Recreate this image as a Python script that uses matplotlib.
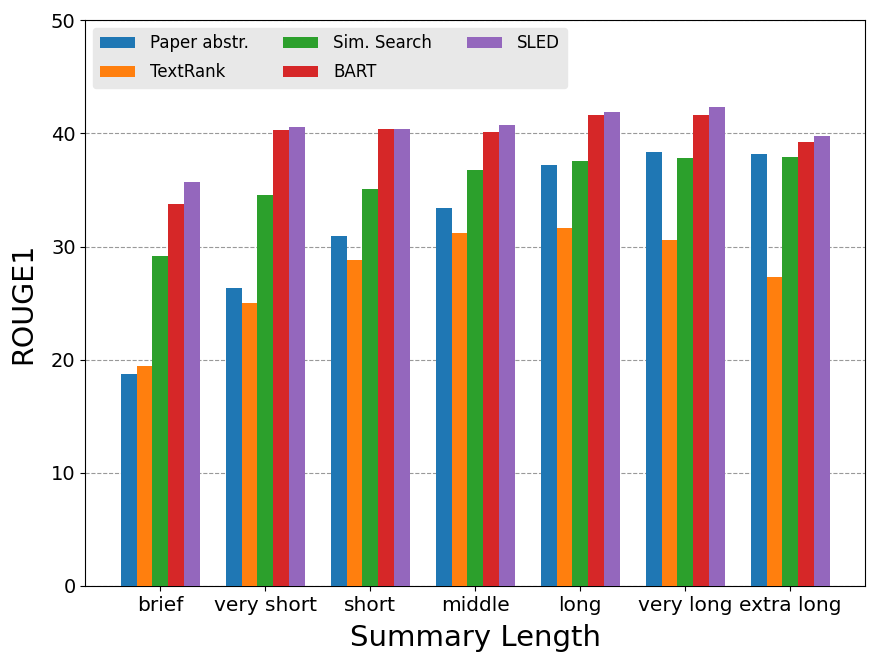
import numpy as np
import matplotlib
matplotlib.use("Agg")
import matplotlib.pyplot as plt

categories = ["brief", "very short", "short", "middle", "long", "very long", "extra long"]
methods = ["Paper abstr.", "TextRank", "Sim. Search", "BART", "SLED"]
colors = ["#1f77b4", "#ff7f0e", "#2ca02c", "#d62728", "#9467bd"]

paper_abstr = [18.7, 26.3, 30.9, 33.4, 37.2, 38.4, 38.2]
textrank = [19.4, 25.0, 28.85, 31.2, 31.6, 30.6, 27.3]
sim_search = [29.2, 34.6, 35.1, 36.8, 37.6, 37.8, 37.9]
bart = [33.8, 40.3, 40.4, 40.15, 41.6, 41.6, 39.2]
sled = [35.7, 40.55, 40.4, 40.75, 41.85, 42.3, 39.8]

series = [paper_abstr, textrank, sim_search, bart, sled]

fig, ax = plt.subplots(figsize=(8.72, 6.54), dpi=100)
fig.subplots_adjust(left=0.098, right=0.992, top=0.969, bottom=0.104)

x = np.arange(len(categories))
w = 0.15
for i, (vals, name) in enumerate(zip(series, methods)):
    ax.bar(x + (i - 2) * w, vals, w, color=colors[i], label=name, zorder=3)

ax.set_ylim(0, 50)
ax.set_xticks(x)
ax.set_xticklabels(categories, fontsize=14.5)
ax.tick_params(axis="y", labelsize=14)
ax.yaxis.grid(True, linestyle="--", color="gray", alpha=0.8, zorder=0)
ax.set_xlabel("Summary Length", fontsize=21, labelpad=7)
ax.set_ylabel("ROUGE1", fontsize=20.5, labelpad=10)

leg = ax.legend(loc="upper left", ncol=3, fontsize=12, frameon=True,
                facecolor="#e8e8e8", edgecolor="#e8e8e8", framealpha=1,
                columnspacing=2.1, handlelength=2.1, handletextpad=0.9,
                labelspacing=0.65, borderaxespad=0.45)

fig.savefig("out.png", dpi=100)
